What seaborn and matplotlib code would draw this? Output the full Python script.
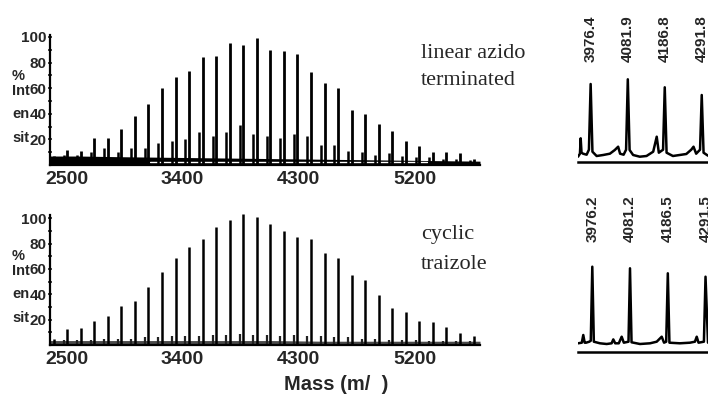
import numpy as np
import pandas as pd
import matplotlib
matplotlib.use("Agg")
import matplotlib.pyplot as plt
import seaborn as sns

sns.set_style("white")
plt.rcParams['font.family'] = ['Liberation Sans', 'DejaVu Sans']

# ---------------- data ----------------
# oligomer ladder masses (m/z)
peak_mass = [2399.9, 2505.0, 2610.1, 2715.2, 2820.3, 2925.4, 3030.5, 3135.6,
             3240.7, 3345.8, 3450.9, 3556.0, 3661.1, 3766.2, 3871.3, 3976.4,
             4081.9, 4186.8, 4291.8, 4396.8, 4501.9, 4607.0, 4712.1, 4817.2,
             4922.3, 5027.4, 5132.5, 5237.6, 5342.7, 5447.8, 5552.9, 5658.0]
# linear azido terminated: main peaks and N2-loss satellites (% intensity)
linear_main = [7, 12, 11, 21, 21, 28, 38.5, 48, 60, 68.5, 73.5, 84.5, 85, 95, 94, 99,
               90, 89, 86.5, 72.5, 64, 60.5, 43, 40, 32, 26.5, 18.5, 15, 10, 10, 9, 5]
linear_sat = [5, 8, 8, 10, 13, 10, 13.5, 13.5, 17, 18.5, 20, 25.5, 23, 25.5, 31, 24,
              22.5, 21, 24.5, 22.5, 16, 16, 11, 10, 8, 9, 7, 6, 6, 5, 5, 4]
# cyclic triazole
cyclic_main = [5, 12.5, 13.5, 19, 22.5, 31, 35, 45.5, 57.5, 68.5, 77, 84, 93, 98.5, 103.5, 101,
               95.5, 90, 85.5, 83.5, 72.5, 69, 55.5, 51.5, 39.5, 29.5, 26, 19, 18, 14, 9.5, 7]
cyclic_sat = [3, 4, 4, 4, 5, 5, 5, 6, 6, 7, 7, 7, 8, 8, 9, 8,
              8, 7, 8, 7, 7, 6, 6, 5, 5, 4, 4, 4, 3, 3, 3, 3]
sat_shift = 28.0

# baseline noise envelope
band_mass = [2372, 2600, 2900, 3300, 3700, 4100, 4500, 4900, 5300, 5708]
linear_band = [7, 7, 6.5, 6, 5.5, 5, 4.5, 4, 3.5, 3]
cyclic_band = [3.5, 3.5, 3.5, 3.5, 3.5, 3.5, 3, 3, 3, 3]
# lighter overlaid trace inside the linear baseline band
grey_mass = [3150, 5300]
grey_level = [2.2, 2.2]

x_ticks = [2500, 3400, 4300, 5200]
y_ticks = [20, 40, 60, 80, 100]

# zoomed insets (m/z, intensity)
ins1_mass = [3940.5, 3946, 3948.1, 3950.5, 3955, 3965, 3971.5, 3976.4, 3981.5, 3993.4, 4012,
             4031, 4045, 4054.5, 4060, 4070, 4077, 4081.9, 4087, 4097, 4116, 4135, 4154,
             4164, 4170, 4182, 4186.8, 4192, 4210, 4229, 4248, 4262, 4268.5, 4276, 4287,
             4291.8, 4297, 4309.6]
ins1_int = [5, 8, 23.4, 9, 8, 7, 12, 77.7, 10, 5.7, 6.7, 8, 11.7, 15, 8, 7, 12, 82.4, 11.7,
            6.7, 5, 5.7, 10, 25, 9, 12, 74.4, 9, 5.7, 6.7, 7.7, 12, 15, 8, 12, 66.7, 9, 6]
ins1_labels = ["3976.4", "4081.9", "4186.8", "4291.8"]
ins1_label_mass = [3976.4, 4081.9, 4186.8, 4291.8]

ins2_mass = [3936.4, 3947, 3951.1, 3955, 3958.7, 3967.8, 3972, 3976.2, 3980.5, 3997.6,
             4016.3, 4030, 4034.7, 4040, 4050, 4058, 4064, 4077, 4081.2, 4085.5, 4109,
             4137, 4155.6, 4169.5, 4176, 4182, 4186.5, 4191, 4220, 4248, 4262, 4267,
             4272, 4287, 4291.5, 4298.4]
ins2_int = [8.4, 9, 16.7, 9, 9, 10, 11, 85, 10, 8.4, 7.7, 8.4, 12.3, 8.4, 8.4, 15, 9, 10, 83.4,
            9.4, 7.7, 8.4, 10, 15, 9, 10, 78.4, 9, 8.4, 9, 10, 15, 9, 10, 75, 9]
ins2_labels = ["3976.2", "4081.2", "4186.5", "4291.5"]
ins2_label_mass = [3976.2, 4081.2, 4186.5, 4291.5]

# ---------------- layout ----------------
W, H = 708, 407
fig = plt.figure(figsize=(W / 100, H / 100), dpi=100)


def rect(l, t, r, b):
    return [l / W, 1 - b / H, (r - l) / W, (b - t) / H]


ax1 = fig.add_axes(rect(50, 35, 480, 165))
ax2 = fig.add_axes(rect(50, 215, 480, 345))
ins1 = fig.add_axes(rect(578, 10, 708, 161.7))
ins2 = fig.add_axes(rect(578, 185, 708, 351.7))

sat_mass = [m - sat_shift for m in peak_mass]


def style_main(ax, ytop):
    ax.set_xlim(2372, 5708)
    ax.set_ylim(0, ytop)
    for s in ["top", "right"]:
        ax.spines[s].set_visible(False)
    for s in ["left", "bottom"]:
        ax.spines[s].set_linewidth(1.6)
        ax.spines[s].set_color("black")
    ax.set_xticks(x_ticks)
    ax.set_xticklabels([str(t) for t in x_ticks], fontsize=14, fontweight="bold")
    ax.set_yticks(y_ticks)
    ax.set_yticklabels([str(t) for t in y_ticks], fontsize=11, fontweight="bold")
    ax.set_yticks([10, 30, 50, 70, 90], minor=True)
    ax.tick_params(axis="y", which="both", length=2.5, width=1.2, direction="inout",
                   pad=1, left=True)
    ax.tick_params(axis="x", which="both", length=2.5, width=1.2, direction="in",
                   pad=4, bottom=True)
    ax.set_xlabel("")
    ax.set_ylabel("")


# top main panel: linear azido terminated
ax1.fill_between(band_mass, 0, linear_band, color="black", lw=0)
ax1.plot(grey_mass, grey_level, color="white", lw=1.0)
ax1.vlines(sat_mass, 0, linear_sat, color="black", lw=1.8)
ax1.vlines(peak_mass, 0, linear_main, color="black", lw=2.0)
style_main(ax1, 101.5)

# bottom main panel: cyclic triazole
ax2.fill_between(band_mass, 0, cyclic_band, color="#4a4a4a", lw=0)
ax2.vlines(sat_mass, 0, cyclic_sat, color="#222222", lw=1.6)
ax2.vlines(peak_mass, 0, cyclic_main, color="black", lw=1.8, clip_on=False)
style_main(ax2, 102.6)

# intensity axis label pieces
for off in (0, 180):
    for txt, yb in (("%", 80), ("Int", 95), ("en", 118), ("sit", 142)):
        fig.text(12 / W, 1 - (yb + off) / H, txt, fontsize=10.5, fontweight="bold",
                 ha="left", va="baseline")

fig.text(336 / W, 1 - 390 / H, "Mass (m/  )", fontsize=14.5, fontweight="bold",
         ha="center", va="baseline")

serif = ["Liberation Serif", "DejaVu Serif"]
fig.text(421 / W, 1 - 58 / H, "linear azido", family=serif, fontsize=16, va="baseline")
fig.text(421 / W, 1 - 85 / H, "terminated", family=serif, fontsize=16, va="baseline")
fig.text(421 / W, 1 - 239 / H, "cyclic", family=serif, fontsize=16, va="baseline")
fig.text(421 / W, 1 - 269 / H, "traizole", family=serif, fontsize=16, va="baseline")

# insets
df1 = pd.DataFrame({"mass": ins1_mass, "intensity": ins1_int})
df2 = pd.DataFrame({"mass": ins2_mass, "intensity": ins2_int})
sns.lineplot(data=df1, x="mass", y="intensity", ax=ins1, color="black", lw=1.8,
             estimator=None, sort=False)
sns.lineplot(data=df2, x="mass", y="intensity", ax=ins2, color="black", lw=1.8,
             estimator=None, sort=False)
ins1.set_xlim(3940.5, 4309.6)
ins1.set_ylim(0, 151.7)
ins2.set_xlim(3936.4, 4298.4)
ins2.set_ylim(0, 166.7)
for ax, labs, lm, yb in ((ins1, ins1_labels, ins1_label_mass, 100),
                         (ins2, ins2_labels, ins2_label_mass, 109.7)):
    ax.set_xticks([])
    ax.set_yticks([])
    ax.set_xlabel("")
    ax.set_ylabel("")
    for s in ["top", "right", "left"]:
        ax.spines[s].set_visible(False)
    ax.spines["bottom"].set_linewidth(1.8)
    ax.spines["bottom"].set_color("black")
    ax.patch.set_alpha(0)
    for t, m in zip(labs, lm):
        ax.text(m, yb, t, rotation=90, ha="center", va="bottom", fontsize=11,
                fontweight="bold", clip_on=False)

fig.savefig("out.png", dpi=100)
